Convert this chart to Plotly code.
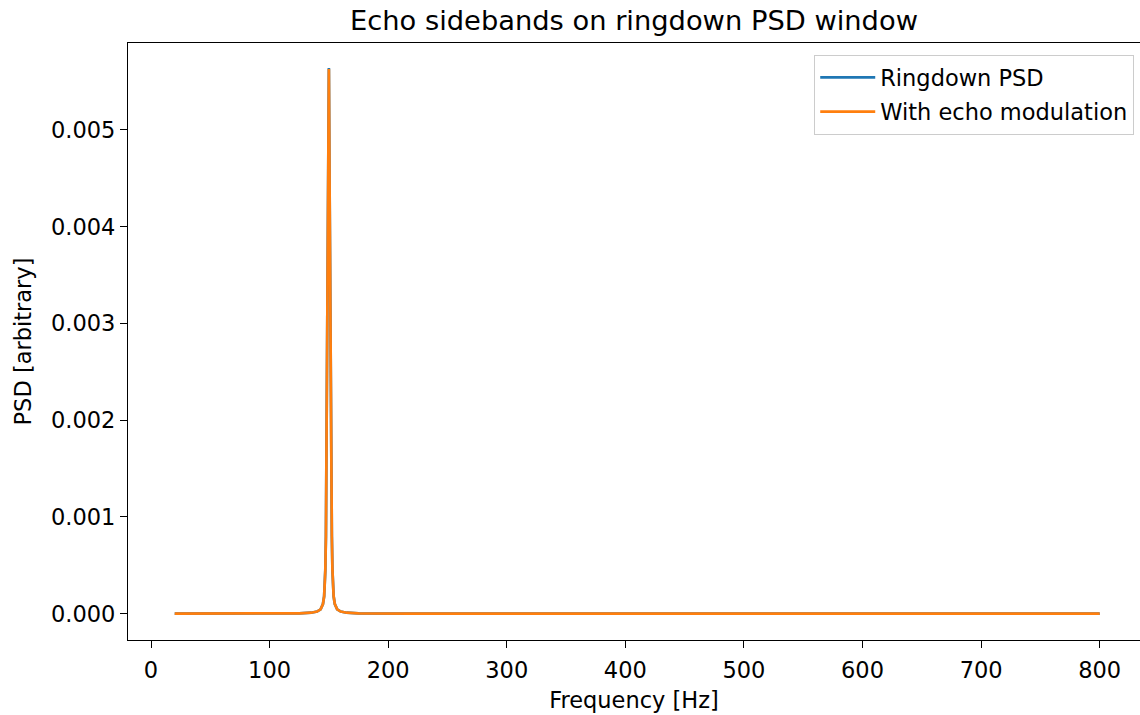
import plotly.graph_objects as go

# Frequencies [Hz] sampled along the curve (denser near the 150 Hz ringdown peak)
freq_hz = [20, 40, 60, 80, 100, 115, 125, 135, 140, 143, 145, 146, 147, 147.5,
           148, 148.5, 149, 149.5, 150, 150.5, 151, 151.5, 152, 152.5, 153,
           154, 155, 157, 160, 165, 175, 190, 220, 260, 300, 400, 500, 600,
           700, 800]

# Ringdown PSD values
psd_ringdown = [5e-8, 7e-8, 1e-7, 2e-7, 4e-7, 1.5e-6, 4e-6, 1.0e-5, 2.2e-5,
                4.5e-5, 1.0e-4, 1.8e-4, 4.5e-4, 8e-4, 1.6e-3, 2.5e-3, 3.3e-3,
                4.6e-3, 5.64e-3, 4.6e-3, 3.3e-3, 2.5e-3, 1.6e-3, 8e-4, 4.5e-4,
                1.8e-4, 1.0e-4, 4.5e-5, 2.2e-5, 1.0e-5, 4e-6, 1.6e-6, 6e-7,
                3e-7, 2e-7, 1e-7, 7e-8, 5e-8, 4e-8, 3e-8]

# PSD with echo modulation (visually indistinguishable from the ringdown PSD)
psd_echo = [5e-8, 7e-8, 1e-7, 2e-7, 4e-7, 1.5e-6, 4e-6, 1.0e-5, 2.2e-5,
            4.5e-5, 1.0e-4, 1.8e-4, 4.5e-4, 8e-4, 1.6e-3, 2.5e-3, 3.3e-3,
            4.6e-3, 5.63e-3, 4.6e-3, 3.3e-3, 2.5e-3, 1.6e-3, 8e-4, 4.5e-4,
            1.8e-4, 1.0e-4, 4.5e-5, 2.2e-5, 1.0e-5, 4e-6, 1.6e-6, 6e-7,
            3e-7, 2e-7, 1e-7, 7e-8, 5e-8, 4e-8, 3e-8]

x_ticks = [0, 100, 200, 300, 400, 500, 600, 700, 800]
y_ticks = [0.0, 0.001, 0.002, 0.003, 0.004, 0.005]

FONT = "DejaVu Sans"
FS = 22.5

fig = go.Figure()
fig.add_trace(go.Scatter(x=freq_hz, y=psd_ringdown, mode="lines",
                         name="Ringdown PSD", legendgroup="a",
                         line=dict(color="#1f77b4", width=2.7)))
fig.add_trace(go.Scatter(x=freq_hz, y=psd_echo, mode="lines",
                         name="With echo modulation", legendgroup="b",
                         line=dict(color="#ff7f0e", width=2.7)))

axis_common = dict(showgrid=False, zeroline=False, showline=True,
                   linecolor="black", linewidth=1.3, ticks="outside",
                   ticklen=7, tickwidth=1.3, tickcolor="black",
                   tickfont=dict(family=FONT, size=FS, color="black"))

fig.update_layout(
    width=1140, height=715,
    margin=dict(l=128, r=0, t=43, b=75),
    paper_bgcolor="white", plot_bgcolor="white",
    font=dict(family=FONT, size=FS, color="black"),
    title=dict(text="Echo sidebands on ringdown PSD window",
               font=dict(family=FONT, size=27.3, color="black"),
               x=0.5, xref="paper", xanchor="center",
               y=1 - 20 / 715, yref="container", yanchor="middle"),
    xaxis=dict(range=[-19.4, 834], tickvals=x_ticks,
               title=dict(text="Frequency [Hz]", standoff=10,
                          font=dict(family=FONT, size=FS)),
               ticklabelstandoff=3,
               mirror=True, **axis_common),
    yaxis=dict(range=[-0.000272, 0.005899], tickvals=y_ticks,
               tickformat=".3f",
               title=dict(text="PSD [arbitrary]", standoff=13,
                          font=dict(family=FONT, size=FS)),
               **axis_common),
    legend=dict(x=0.994, y=0.980, xanchor="right", yanchor="top",
                bgcolor="rgba(255,255,255,0.8)", bordercolor="#cccccc",
                borderwidth=1.3, font=dict(family=FONT, size=FS),
                itemwidth=55, tracegroupgap=2),
    showlegend=True,
)

fig.write_html("out.html")
